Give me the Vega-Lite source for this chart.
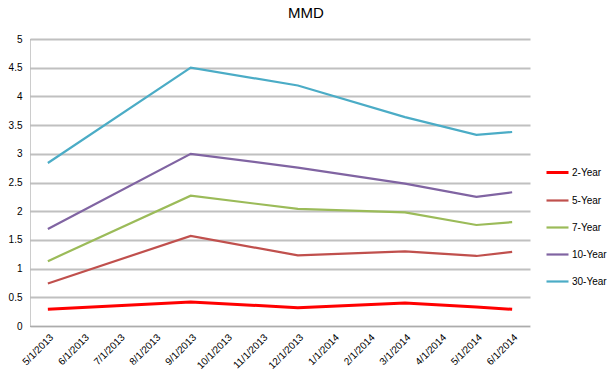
{
  "$schema": "https://vega.github.io/schema/vega-lite/v6.json",
  "autosize": {"type": "none"},
  "width": 500,
  "height": 287,
  "padding": {"left": 30, "top": 39, "right": 85, "bottom": 57},
  "background": "white",
  "title": {"text": "MMD", "font": "Liberation Sans", "fontSize": 15, "fontWeight": "normal", "color": "#000000", "anchor": "middle", "dx": 26, "offset": 13},
  "config": {
    "view": {"stroke": null},
    "font": "Liberation Sans"
  },
  "data": {
    "values": [
      {"date": "5/1/2013", "series": "2-Year", "value": 0.29},
      {"date": "9/1/2013", "series": "2-Year", "value": 0.42},
      {"date": "12/1/2013", "series": "2-Year", "value": 0.32},
      {"date": "3/1/2014", "series": "2-Year", "value": 0.40},
      {"date": "5/1/2014", "series": "2-Year", "value": 0.33},
      {"date": "6/1/2014", "series": "2-Year", "value": 0.29},
      {"date": "5/1/2013", "series": "5-Year", "value": 0.74},
      {"date": "9/1/2013", "series": "5-Year", "value": 1.57},
      {"date": "12/1/2013", "series": "5-Year", "value": 1.23},
      {"date": "3/1/2014", "series": "5-Year", "value": 1.30},
      {"date": "5/1/2014", "series": "5-Year", "value": 1.22},
      {"date": "6/1/2014", "series": "5-Year", "value": 1.29},
      {"date": "5/1/2013", "series": "7-Year", "value": 1.13},
      {"date": "9/1/2013", "series": "7-Year", "value": 2.27},
      {"date": "12/1/2013", "series": "7-Year", "value": 2.04},
      {"date": "3/1/2014", "series": "7-Year", "value": 1.98},
      {"date": "5/1/2014", "series": "7-Year", "value": 1.76},
      {"date": "6/1/2014", "series": "7-Year", "value": 1.81},
      {"date": "5/1/2013", "series": "10-Year", "value": 1.69},
      {"date": "9/1/2013", "series": "10-Year", "value": 3.00},
      {"date": "12/1/2013", "series": "10-Year", "value": 2.76},
      {"date": "3/1/2014", "series": "10-Year", "value": 2.48},
      {"date": "5/1/2014", "series": "10-Year", "value": 2.25},
      {"date": "6/1/2014", "series": "10-Year", "value": 2.33},
      {"date": "5/1/2013", "series": "30-Year", "value": 2.84},
      {"date": "9/1/2013", "series": "30-Year", "value": 4.50},
      {"date": "12/1/2013", "series": "30-Year", "value": 4.19},
      {"date": "3/1/2014", "series": "30-Year", "value": 3.64},
      {"date": "5/1/2014", "series": "30-Year", "value": 3.33},
      {"date": "6/1/2014", "series": "30-Year", "value": 3.38}
    ]
  },
  "mark": {"type": "line", "strokeCap": "butt", "strokeJoin": "miter"},
  "encoding": {
    "x": {
      "field": "date",
      "type": "ordinal",
      "sort": null,
      "scale": {
        "type": "point",
        "padding": 0.5,
        "domain": ["5/1/2013", "6/1/2013", "7/1/2013", "8/1/2013", "9/1/2013", "10/1/2013", "11/1/2013", "12/1/2013", "1/1/2014", "2/1/2014", "3/1/2014", "4/1/2014", "5/1/2014", "6/1/2014"]
      },
      "axis": {
        "title": null,
        "labelAngle": -45,
        "labelFontSize": 10,
        "labelColor": "#000000",
        "labelFont": "Liberation Sans",
        "ticks": false,
        "labelPadding": 6,
        "domainColor": "#999999",
        "domainDash": [1, 1],
        "domainWidth": 1,
        "grid": false
      }
    },
    "y": {
      "field": "value",
      "type": "quantitative",
      "scale": {"domain": [0, 5], "nice": false},
      "axis": {
        "title": null,
        "values": [0, 0.5, 1, 1.5, 2, 2.5, 3, 3.5, 4, 4.5, 5],
        "format": "~g",
        "labelFontSize": 10,
        "labelColor": "#000000",
        "labelFont": "Liberation Sans",
        "ticks": false,
        "labelPadding": 8,
        "domainColor": "#999999",
        "domainDash": [1, 1],
        "domainWidth": 1,
        "grid": true,
        "gridColor": "#C0C0C0",
        "gridWidth": 2
      }
    },
    "color": {
      "field": "series",
      "type": "nominal",
      "scale": {
        "domain": ["2-Year", "5-Year", "7-Year", "10-Year", "30-Year"],
        "range": ["#FF0000", "#C0504D", "#9BBB59", "#8064A2", "#4BACC6"]
      },
      "legend": {
        "title": null,
        "orient": "none",
        "legendX": 515,
        "legendY": 121,
        "symbolType": "stroke",
        "symbolSize": 484,
        "symbolStrokeWidth": 3,
        "labelFont": "Liberation Sans",
        "labelFontSize": 10,
        "labelColor": "#000000",
        "labelOffset": 2,
        "rowPadding": 9
      }
    },
    "strokeWidth": {
      "field": "series",
      "type": "nominal",
      "scale": {
        "type": "ordinal",
        "domain": ["2-Year", "5-Year", "7-Year", "10-Year", "30-Year"],
        "range": [3, 2.2, 2.2, 2.2, 2.2]
      },
      "legend": null
    }
  }
}
